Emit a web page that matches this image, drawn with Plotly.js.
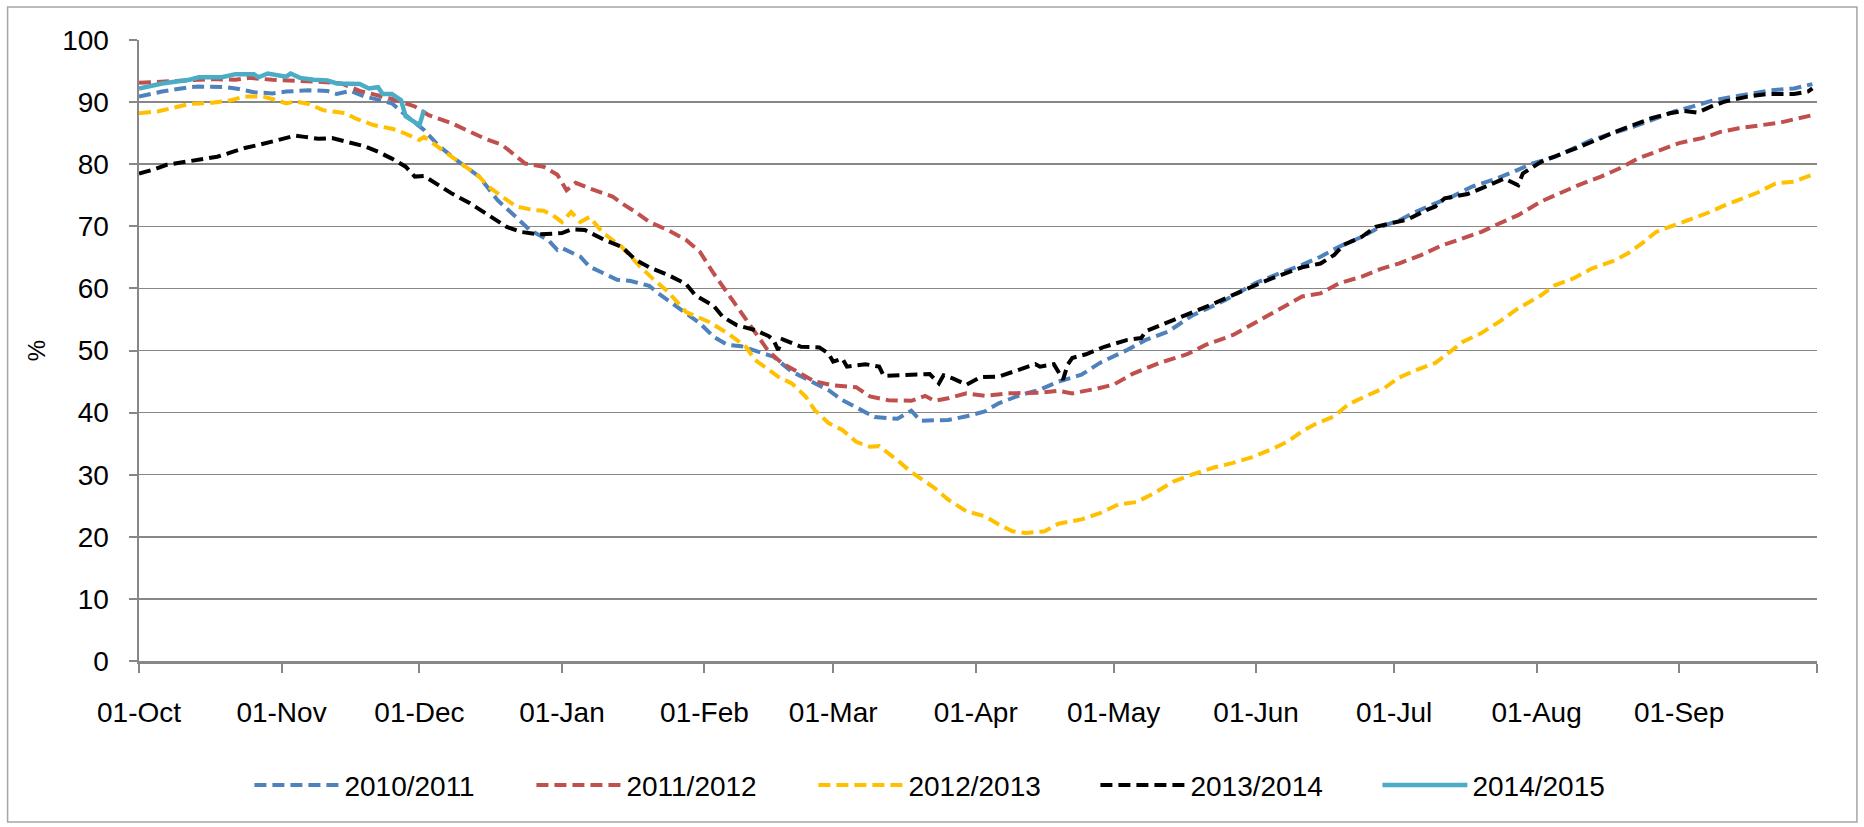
<!DOCTYPE html>
<html>
<head>
<meta charset="utf-8">
<script src="https://cdn.plot.ly/plotly-3.0.1.min.js"></script>
<style>
  body { margin: 0; background: #fff; }
  #chart { width: 1864px; height: 827px; }
</style>
</head>
<body>
<div id="chart"></div>
<script>
// day index counted from 01-Oct, value in %
const monthTicks = [0, 31, 61, 92, 123, 151, 182, 212, 243, 273, 304, 335, 365];
const monthLabels = ['01-Oct', '01-Nov', '01-Dec', '01-Jan', '01-Feb', '01-Mar', '01-Apr',
  '01-May', '01-Jun', '01-Jul', '01-Aug', '01-Sep', ''];

const seriesNames = ['2010/2011', '2011/2012', '2012/2013', '2013/2014', '2014/2015'];
const seriesColors = ['#4F81BD', '#C0504D', '#FFC000', '#000000', '#4BACC6'];

const days1011 = [0, 5, 11, 13, 19, 21, 25, 29, 32, 37, 41, 43, 46, 49, 52, 55, 58, 62, 65, 69, 74, 78, 82, 85, 89, 91, 92, 96, 98, 101, 104, 107, 111,
  113, 116, 119, 122, 125, 128, 131, 135, 138, 142, 147, 150, 153, 157, 160, 165, 168, 170, 176, 180, 184, 187, 192, 196, 200, 205, 209, 215, 219, 224,
  229, 236, 243, 248, 253, 257, 261, 266, 270, 274, 277, 282, 286, 290, 295, 299, 303, 308, 312, 316, 321, 325, 329, 334, 338, 342, 347, 351, 355, 360, 364];
const vals1011 = [90.9, 91.7, 92.4, 92.5, 92.4, 92.2, 91.6, 91.4, 91.7, 91.9, 91.8, 91.3, 91.8, 90.9, 90.4, 89.8, 87.9, 85.5, 83.1, 80.7, 78.0, 74.2, 71.5, 69.4, 67.8, 66.2, 66.5, 65.1, 63.5, 62.4, 61.4, 61.2, 60.4,
  59.2, 57.6, 56.0, 54.4, 52.2, 50.9, 50.7, 49.8, 49.0, 46.6, 44.7, 43.6, 42.0, 40.4, 39.3, 39.0, 40.3, 38.7, 38.8, 39.4, 40.2, 41.5, 42.9, 43.7, 45.0, 46.1, 48.0, 50.1, 51.7, 53.1,
  55.6, 58.0, 60.9, 62.4, 63.8, 65.1, 66.7, 68.3, 69.9, 70.9, 72.1, 73.7, 74.9, 76.4, 77.6, 78.8, 80.1, 81.2, 82.6, 83.9, 85.1, 86.0, 87.1, 88.5, 89.3, 90.2, 90.9, 91.4, 91.9, 92.2, 92.9];

const days1112 = [0, 5, 11, 16, 21, 24, 29, 34, 39, 44, 48, 53, 56, 60, 63, 68, 71, 75, 79, 82, 84, 88, 91, 93, 95, 98, 100, 103, 105, 108, 111, 115, 119, 122,
  125, 128, 131, 134, 137, 140, 144, 147, 151, 156, 159, 163, 168, 171, 173, 176, 180, 184, 189, 191, 196, 200, 203, 208, 212, 216, 222, 228, 232, 238,
  244, 248, 253, 257, 261, 266, 270, 274, 279, 283, 287, 292, 296, 300, 305, 309, 313, 318, 322, 326, 331, 335, 340, 344, 348, 353, 357, 361, 364];
const vals1112 = [93.1, 93.3, 93.6, 93.7, 93.6, 93.9, 93.6, 93.5, 93.3, 93.0, 91.8, 90.9, 90.3, 89.3, 87.9, 86.6, 85.5, 84.2, 83.1, 81.2, 80.1, 79.6, 78.3, 75.8, 77.0, 76.1, 75.6, 74.8, 73.7, 72.3, 70.7, 69.4, 67.8, 65.9,
  62.4, 59.2, 56.0, 52.8, 49.8, 47.9, 46.3, 45.0, 44.4, 44.1, 42.6, 42.0, 41.9, 42.7, 41.9, 42.3, 43.1, 42.7, 43.1, 43.1, 43.2, 43.5, 43.1, 43.8, 44.5, 46.2, 48.0, 49.4, 50.9, 52.5,
  55.0, 56.8, 58.7, 59.2, 60.8, 61.9, 63.1, 64.0, 65.4, 66.8, 67.8, 69.1, 70.5, 71.8, 74.0, 75.3, 76.6, 78.0, 79.3, 80.9, 82.3, 83.4, 84.2, 85.2, 85.8, 86.3, 86.7, 87.4, 87.9];

const days1213 = [0, 4, 7, 11, 16, 20, 23, 27, 30, 32, 34, 37, 40, 45, 47, 51, 55, 56, 58, 61, 62, 65, 68, 71, 74, 76, 80, 82, 86, 88, 90, 92, 94, 96, 98,
  101, 105, 109, 112, 115, 119, 124, 128, 132, 134, 137, 139, 142, 145, 147, 150, 153, 156, 159, 161, 165, 168, 170, 173, 176, 180, 184, 187, 190, 193,
  197, 200, 205, 209, 213, 217, 221, 225, 229, 234, 238, 242, 247, 250, 253, 256, 260, 263, 267, 271, 274, 277, 282, 285, 288, 292, 296, 300, 305, 308,
  312, 316, 321, 324, 327, 330, 333, 337, 341, 345, 348, 352, 356, 360, 364];
const vals1213 = [88.2, 88.5, 89.0, 89.7, 89.9, 90.3, 90.9, 90.9, 90.3, 89.8, 90.1, 89.7, 88.7, 88.2, 87.4, 86.3, 85.7, 85.5, 84.9, 83.9, 84.4, 82.8, 81.2, 79.6, 78.0, 76.4, 74.2, 73.2, 72.6, 72.5, 71.8, 70.7, 72.3, 70.7, 71.5,
  68.9, 66.7, 63.5, 61.4, 59.5, 56.2, 54.6, 52.8, 50.6, 48.5, 46.9, 45.8, 44.7, 42.6, 40.4, 38.3, 37.2, 35.3, 34.5, 34.6, 32.3, 30.4, 29.4, 27.9, 26.0, 24.1, 23.3, 22.0, 20.9, 20.6,
  20.9, 22.1, 22.8, 23.8, 25.2, 25.6, 27.1, 28.9, 30.0, 31.2, 31.9, 32.8, 34.3, 35.4, 37.0, 38.2, 39.4, 41.3, 42.7, 44.0, 45.6, 46.6, 48.0, 49.6, 51.4, 52.8, 54.7, 56.8, 58.9, 60.5,
  61.6, 63.2, 64.5, 65.7, 67.3, 69.1, 69.9, 71.0, 72.1, 73.4, 74.3, 75.4, 76.9, 77.2, 78.3];

const days1314 = [0, 3, 6, 10, 13, 17, 20, 23, 26, 29, 32, 34, 36, 39, 42, 45, 49, 52, 55, 58, 60, 62, 65, 68, 72, 76, 80, 83, 87, 92, 94, 97,
  101, 105, 108, 111, 115, 119, 121, 125, 127, 130, 134, 137, 138, 139, 140, 144, 148, 150, 151, 153, 154, 158, 161, 162, 167, 170, 172, 174, 175, 177, 180,
  183, 187, 191, 195, 196, 199, 201, 202, 203, 206, 210, 215, 218, 219, 226, 233, 240, 246, 253, 257, 260, 262, 266, 269, 273, 276, 280, 282, 284, 289,
  292, 295, 297, 300, 301, 305, 309, 313, 318, 321, 325, 329, 333, 336, 339, 342, 345, 350, 354, 360, 363, 364];
const vals1314 = [78.5, 79.1, 79.9, 80.4, 80.7, 81.2, 81.9, 82.6, 83.1, 83.7, 84.2, 84.6, 84.4, 84.1, 84.2, 83.7, 82.9, 82.0, 80.9, 79.6, 78.0, 78.1, 76.7, 75.3, 73.7, 71.8, 69.9, 69.1, 68.7, 68.9, 69.5, 69.4,
  67.9, 66.7, 64.6, 63.4, 62.2, 60.7, 58.9, 57.2, 55.4, 54.1, 53.3, 52.3, 51.7, 50.1, 51.8, 50.6, 50.5, 49.5, 48.2, 48.7, 47.4, 47.8, 47.4, 45.9, 46.1, 46.2, 46.2, 44.7, 46.0, 45.5, 44.5,
  45.7, 45.8, 46.8, 47.8, 47.4, 47.8, 45.3, 47.7, 48.8, 49.4, 50.6, 51.7, 52.0, 53.1, 55.2, 57.3, 59.6, 61.5, 63.4, 64.0, 65.4, 67.0, 68.3, 69.9, 70.6, 71.1, 72.6, 73.2, 74.5, 75.2,
  76.1, 77.0, 77.7, 76.6, 78.5, 80.4, 81.5, 82.7, 84.2, 85.2, 86.3, 87.4, 88.2, 88.6, 88.3, 89.3, 90.1, 90.9, 91.3, 91.3, 91.7, 92.2];

const days1415 = [0, 5, 11, 13, 18, 21, 25, 26, 28, 32, 33, 35, 38, 41, 43, 48, 50, 52, 53, 55, 57, 58, 61, 62];
const vals1415 = [92.2, 93.0, 93.6, 94.0, 94.0, 94.5, 94.5, 94.0, 94.6, 94.1, 94.6, 93.9, 93.6, 93.5, 93.0, 92.9, 92.2, 92.4, 91.3, 91.3, 90.3, 87.7, 86.3, 88.7];

const allDays = [days1011, days1112, days1213, days1314, days1415];
const allVals = [vals1011, vals1112, vals1213, vals1314, vals1415];

const FONT = '"Liberation Sans", Arial, sans-serif';
const GRID = '#878787';

const traces = seriesNames.map(function (name, i) {
  const solid = i === 4;
  return {
    x: allDays[i],
    y: allVals[i],
    name: name,
    type: 'scatter',
    mode: 'lines',
    line: { color: seriesColors[i], width: solid ? 4.5 : 4, dash: solid ? 'solid' : '12px,6px' }
  };
});

const layout = {
  width: 1864,
  height: 827,
  margin: { l: 138.5, r: 47, t: 40, b: 166 },
  paper_bgcolor: '#ffffff',
  plot_bgcolor: '#ffffff',
  font: { family: FONT, size: 28, color: '#000000' },
  showlegend: true,
  legend: {
    orientation: 'h',
    x: 0.0658, xanchor: 'left',
    y: -0.2, yanchor: 'middle',
    font: { family: FONT, size: 28, color: '#000000' },
    itemwidth: 85,
    entrywidth: 182, entrywidthmode: 'pixels',
    bgcolor: 'rgba(0,0,0,0)'
  },
  xaxis: {
    range: [0, 365],
    tickmode: 'array',
    tickvals: monthTicks,
    ticktext: monthLabels,
    showgrid: false,
    zeroline: false,
    showline: true, linecolor: GRID, linewidth: 2.5,
    ticks: 'outside', ticklen: 9, tickwidth: 2, tickcolor: GRID,
    ticklabelstandoff: 16,
    tickfont: { family: FONT, size: 28, color: '#000000' }
  },
  yaxis: {
    range: [0, 100],
    dtick: 10,
    showgrid: true, gridcolor: GRID, gridwidth: 1.5,
    zeroline: false,
    showline: true, linecolor: GRID, linewidth: 2.5,
    ticks: 'outside', ticklen: 8, tickwidth: 2, tickcolor: GRID,
    ticklabelstandoff: 14,
    tickfont: { family: FONT, size: 28, color: '#000000' },
    title: { text: '%', font: { family: FONT, size: 24, color: '#000000' }, standoff: 10 }
  },
  shapes: [{
    type: 'rect', xref: 'paper', yref: 'paper',
    x0: -0.0783, x1: 1.0238, y0: -0.2593, y1: 1.0531,
    line: { color: '#a6a6a6', width: 1.5 }, fillcolor: 'rgba(0,0,0,0)', layer: 'below'
  }]
};

Plotly.newPlot('chart', traces, layout, { displayModeBar: false, staticPlot: true });
</script>
</body>
</html>
